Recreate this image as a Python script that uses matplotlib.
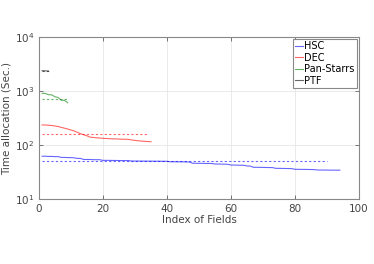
import numpy as np
import matplotlib
matplotlib.use('Agg')
import matplotlib.pyplot as plt

# time allocation per field (sec), sorted descending
hsc_time = [62, 62, 61.5, 61.5, 61, 61, 59, 59, 58.5, 58.5, 58,
            56.5, 56.5, 54, 54, 54, 53.5, 53.5, 53.5,
            52, 52, 52, 51.8, 51.8, 51.6, 51.6, 51.5, 51.5,
            50.5, 50.5, 50.5, 50.4, 50.4, 50.3, 50.3, 50.2, 50.2, 50.1, 50, 50,
            49, 49, 49, 48.8, 48.8, 48.6, 48.5,
            46, 46, 45.8, 45.8, 45.6, 45.6, 45.5,
            44.5, 44.5, 44.3, 44.2, 44,
            42.6, 42.6, 42.4, 42.3, 42.2,
            41, 40.8,
            38.7, 38.7, 38.6, 38.5, 38.4, 38.3, 38.2,
            37, 37, 36.9, 36.8, 36.7, 36.6,
            35.5, 35.5, 35.4, 35.4, 35.3, 35.2, 35.1,
            34.5, 34.5, 34.4, 34.4, 34.3, 34.3, 34.2, 34.2]
dec_time = [235, 235, 232, 230, 225, 220, 212, 205, 198, 190, 182, 172, 162,
            155, 148, 140, 138, 136, 135, 133, 132, 131, 130, 130, 129, 128,
            128, 127, 124, 122, 120, 118, 117, 116, 115]
ps_time = [906, 900, 853, 850, 783, 760, 673, 670, 607]
ptf_time = [2380, 2360, 2340]

# mean allocation (dashed) and its extent
hsc_mean, hsc_mean_n = 50.6, 90
dec_mean, dec_mean_n = 158, 34
ps_mean, ps_mean_n = 720, 9
ptf_mean, ptf_mean_n = 2350, 3

labels = ['HSC', 'DEC', 'Pan-Starrs', 'PTF']
colors = ['#0000ff', '#ff0000', '#008000', '#000000']

fig = plt.figure(figsize=(3.74, 2.64), dpi=100)
ax = fig.add_axes([0.104, 0.246, 0.856, 0.614])

series = [hsc_time, dec_time, ps_time, ptf_time]
means = [(hsc_mean, hsc_mean_n), (dec_mean, dec_mean_n),
         (ps_mean, ps_mean_n), (ptf_mean, ptf_mean_n)]
for vals, (m, n), lab, c in zip(series, means, labels, colors):
    x = np.arange(1, len(vals) + 1)
    ax.plot(x, vals, color=c, lw=0.8, alpha=0.6, label=lab)
    ax.plot([1, n], [m, m], color=c, lw=0.8, alpha=0.6, ls=(0, (2, 2)))

ax.set_yscale('log')
ax.set_xlim(0, 100)
ax.set_ylim(10, 1e4)
ax.set_xticks([0, 20, 40, 60, 80, 100])
ax.yaxis.set_minor_locator(matplotlib.ticker.NullLocator())
ax.tick_params(direction='in', top=True, right=True, labelsize=7.5,
               colors='#444444', length=3, width=0.5)
ax.grid(True, color='#e6e6e6', lw=0.6)
for s in ax.spines.values():
    s.set_color('#888888')
    s.set_linewidth(0.8)
ax.set_xlabel('Index of Fields', fontsize=7.5, color='#444444', labelpad=1)
ax.set_ylabel('Time allocation (Sec.)', fontsize=7.5, color='#444444', labelpad=2)

leg = ax.legend(loc='upper right', fontsize=7, handlelength=0.9,
                handletextpad=0.1, borderpad=0.2, labelspacing=0.15,
                fancybox=False, framealpha=1, borderaxespad=0.25)
leg.get_frame().set_edgecolor('#888888')
leg.get_frame().set_linewidth(0.8)

fig.savefig('out.png', dpi=100)
